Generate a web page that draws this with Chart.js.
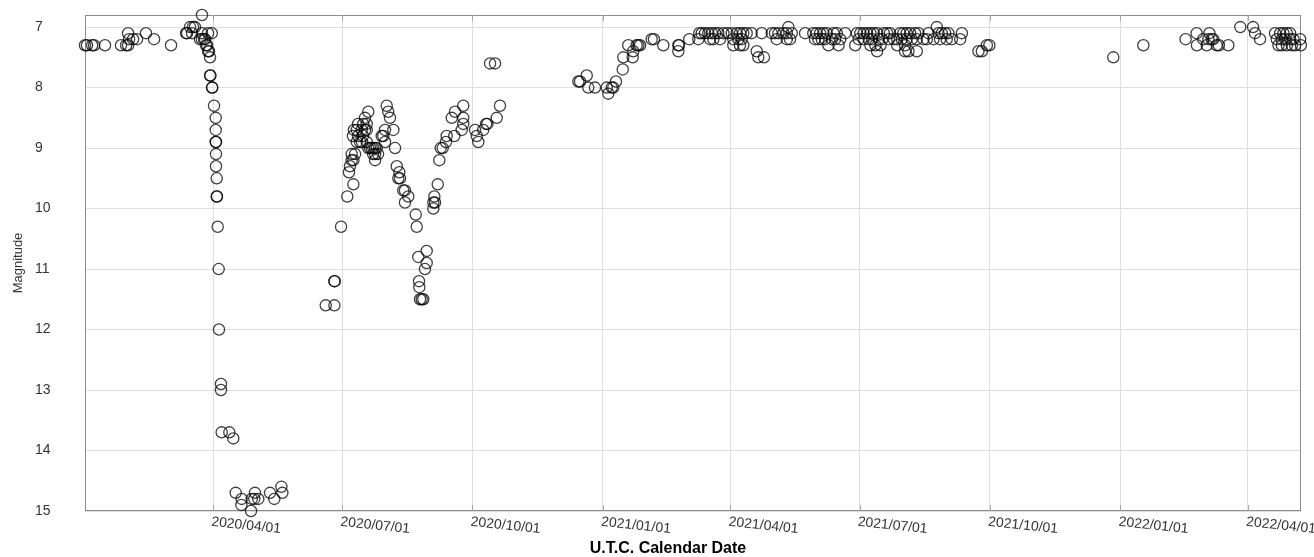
<!DOCTYPE html>
<html>
<head>
<meta charset="utf-8">
<script src="https://cdn.jsdelivr.net/npm/chart.js@4.4.1/dist/chart.umd.min.js"></script>
<style>
  html, body { margin: 0; padding: 0; background: #fff; }
  canvas { display: block; }
</style>
</head>
<body>
<canvas id="lc" width="1314" height="557"></canvas>
<script>
// Quarterly date ticks on the time axis
const tickDates = ['2020/04/01', '2020/07/01', '2020/10/01', '2021/01/01', '2021/04/01',
                   '2021/07/01', '2021/10/01', '2022/01/01', '2022/04/01'];
// Magnitude ticks (axis runs bright at the top, faint at the bottom)
const magTicks = [7, 8, 9, 10, 11, 12, 13, 14, 15];

// Visual estimates: Julian Date of each observation
const obsJD = [
  // 2020 Jan - Jun: bright plateau, then the deep fade
  2458850.2, 2458851.6, 2458855.2, 2458856.6, 2458864.3, 2458875.6, 2458879.2, 2458880.6,
  2458880.6, 2458881.3, 2458884.1, 2458886.9, 2458893.2, 2458898.9, 2458910.9, 2458921.5,
  2458922.2, 2458924.3, 2458925.7, 2458926.4, 2458927.8, 2458931.3, 2458932.7, 2458932.7,
  2458932.7, 2458934.2, 2458934.9, 2458935.6, 2458936.3, 2458937.0, 2458937.0, 2458937.7,
  2458938.4, 2458938.4, 2458938.7, 2458939.6, 2458939.8, 2458940.0, 2458941.2, 2458942.4,
  2458942.4, 2458942.4, 2458942.6, 2458942.6, 2458942.6, 2458943.1, 2458943.1, 2458943.3,
  2458943.8, 2458944.5, 2458944.7, 2458946.1, 2458946.1, 2458946.6, 2458952.0, 2458954.8,
  2458956.5, 2458960.5, 2458960.7, 2458967.3, 2458967.8, 2458969.6, 2458970.1, 2458972.4,
  2458980.7, 2458983.7, 2458988.7, 2458989.4,
  // 2020 Jun - Nov: recovery with secondary dip
  2459020.0, 2459026.1, 2459026.1, 2459026.3, 2459030.8, 2459035.2, 2459039.5, 2459036.4,
  2459037.1, 2459038.3, 2459039.5, 2459038.3, 2459040.7, 2459050.0, 2459047.7, 2459048.9,
  2459046.5, 2459039.9, 2459041.9, 2459045.4, 2459047.7, 2459048.9, 2459039.2, 2459042.8,
  2459046.3, 2459041.9, 2459044.2, 2459048.9, 2459051.2, 2459052.4, 2459053.6, 2459054.8,
  2459056.0, 2459053.4, 2459054.8, 2459054.8, 2459050.0, 2459056.9, 2459045.6, 2459042.8,
  2459063.0, 2459064.1, 2459065.3, 2459067.7, 2459061.8, 2459060.6, 2459059.5, 2459061.8,
  2459068.9, 2459070.1, 2459071.9, 2459071.2, 2459072.4, 2459074.7, 2459075.9, 2459078.2,
  2459075.9, 2459083.5, 2459084.2, 2459085.3, 2459091.2, 2459091.2, 2459090.0, 2459085.8,
  2459086.0, 2459086.5, 2459087.7, 2459088.8, 2459095.9, 2459097.1, 2459096.6, 2459095.9,
  2459099.0, 2459100.1, 2459101.1, 2459102.5, 2459104.8, 2459105.3, 2459110.7, 2459108.9,
  2459111.2, 2459117.0, 2459117.0, 2459115.9, 2459117.0, 2459125.3, 2459126.5, 2459127.6,
  2459131.1, 2459133.1, 2459134.0, 2459140.6, 2459142.9, 2459135.9, 2459139.4,
  // 2020 Dec - 2021 Sep: back at maximum
  2459198.2, 2459199.4, 2459204.1, 2459205.2, 2459209.9, 2459218.2, 2459219.3, 2459221.7,
  2459222.8, 2459224.7, 2459229.5, 2459229.9, 2459233.4, 2459236.5, 2459236.9, 2459239.3,
  2459240.5, 2459241.7, 2459249.9, 2459251.5, 2459258.1, 2459268.7, 2459268.7, 2459269.2,
  2459276.4, 2459282.8, 2459283.5, 2459285.2, 2459287.5, 2459289.9, 2459291.1, 2459292.3,
  2459293.4, 2459294.6, 2459296.9, 2459298.1, 2459300.5, 2459303.3, 2459306.4, 2459307.5,
  2459307.5, 2459309.9, 2459311.0, 2459312.2, 2459312.2, 2459313.4, 2459314.5, 2459314.5,
  2459316.9, 2459320.4, 2459324.0, 2459325.1, 2459327.5, 2459329.1, 2459334.6, 2459336.9,
  2459338.1, 2459339.3, 2459342.8, 2459345.2, 2459345.2, 2459346.3, 2459347.5, 2459348.7,
  2459358.1, 2459363.9, 2459365.1, 2459366.3, 2459367.5, 2459368.7, 2459369.9, 2459371.0,
  2459372.2, 2459373.4, 2459374.6, 2459377.0, 2459378.2, 2459379.3, 2459380.5, 2459381.7,
  2459382.9, 2459386.4, 2459393.5, 2459394.7, 2459395.9, 2459397.1, 2459399.4, 2459399.4,
  2459401.8, 2459403.0, 2459404.2, 2459404.2, 2459405.4, 2459406.5, 2459407.7, 2459408.9,
  2459408.9, 2459410.1, 2459411.3, 2459412.5, 2459413.6, 2459416.0, 2459417.2, 2459418.0,
  2459420.7, 2459423.1, 2459423.1, 2459425.1, 2459426.3, 2459427.4, 2459428.6, 2459428.6,
  2459429.8, 2459429.8, 2459431.0, 2459432.2, 2459433.3, 2459435.7, 2459436.9, 2459436.9,
  2459438.1, 2459441.6, 2459444.0, 2459445.1, 2459448.7, 2459451.0, 2459452.2, 2459453.3,
  2459454.5, 2459456.9, 2459458.0, 2459459.2, 2459461.6, 2459467.5, 2459468.7, 2459480.4,
  2459482.8, 2459486.3, 2459488.1,
  // 2021 Dec - 2022 May
  2459575.5, 2459596.7, 2459626.5, 2459634.3, 2459634.5, 2459639.0, 2459641.4, 2459642.6,
  2459643.3, 2459644.9, 2459646.0, 2459648.4, 2459650.0, 2459656.6, 2459665.1, 2459674.1,
  2459675.5, 2459679.0, 2459689.6, 2459690.8, 2459692.0, 2459693.2, 2459694.4, 2459694.4,
  2459695.5, 2459696.7, 2459697.9, 2459697.9, 2459700.2, 2459700.2, 2459701.4, 2459702.6,
  2459703.8, 2459707.3, 2459707.8
];

// Visual magnitude of each observation (same order as obsJD)
const obsMag = [
  7.3, 7.3, 7.3, 7.3, 7.3, 7.3, 7.3, 7.3,
  7.1, 7.2, 7.2, 7.2, 7.1, 7.2, 7.3, 7.1,
  7.1, 7.0, 7.1, 7.0, 7.0, 7.2, 6.8, 7.2,
  7.1, 7.2, 7.2, 7.3, 7.3, 7.1, 7.4, 7.4,
  7.5, 7.8, 7.8, 7.1, 8.0, 8.0, 8.3, 8.5,
  8.7, 8.9, 8.9, 9.1, 9.3, 9.5, 9.8, 9.8,
  10.3, 11.0, 12.0, 12.9, 13.0, 13.7, 13.7, 13.8,
  14.7, 14.9, 14.8, 15.0, 14.8, 14.8, 14.7, 14.8,
  14.7, 14.8, 14.6, 14.7,

  11.6, 11.6, 11.2, 11.2, 10.3, 9.8, 9.6, 9.4,
  9.3, 9.2, 9.2, 9.1, 9.1, 8.4, 8.5, 8.6,
  8.6, 8.7, 8.7, 8.7, 8.7, 8.7, 8.8, 8.8,
  8.8, 8.9, 8.9, 8.9, 9.0, 9.0, 9.0, 9.0,
  9.0, 9.1, 9.1, 9.2, 9.0, 9.1, 8.9, 8.6,
  8.3, 8.4, 8.5, 8.7, 8.7, 8.8, 8.8, 8.9,
  9.0, 9.3, 9.4, 9.5, 9.5, 9.7, 9.7, 9.8,
  9.9, 10.1, 10.3, 10.8, 10.7, 10.9, 11.0, 11.2,
  11.3, 11.5, 11.5, 11.5, 10.0, 9.9, 9.8, 9.9,
  9.6, 9.2, 9.0, 9.0, 8.9, 8.8, 8.8, 8.5,
  8.4, 8.3, 8.5, 8.7, 8.6, 8.7, 8.8, 8.9,
  8.7, 8.6, 8.6, 8.5, 8.3, 7.6, 7.6,

  7.9, 7.9, 7.8, 8.0, 8.0, 8.0, 8.1, 8.0,
  8.0, 7.9, 7.7, 7.5, 7.3, 7.5, 7.4, 7.3,
  7.3, 7.3, 7.2, 7.2, 7.3, 7.3, 7.4, 7.3,
  7.2, 7.2, 7.1, 7.1, 7.1, 7.1, 7.2, 7.1,
  7.2, 7.1, 7.1, 7.2, 7.1, 7.1, 7.1, 7.2,
  7.3, 7.1, 7.2, 7.3, 7.1, 7.2, 7.1, 7.3,
  7.1, 7.1, 7.4, 7.5, 7.1, 7.5, 7.1, 7.1,
  7.2, 7.1, 7.1, 7.1, 7.2, 7.0, 7.2, 7.1,
  7.1, 7.1, 7.2, 7.1, 7.2, 7.1, 7.2, 7.1,
  7.2, 7.1, 7.3, 7.2, 7.1, 7.2, 7.1, 7.3,
  7.2, 7.1, 7.3, 7.1, 7.2, 7.1, 7.1, 7.2,
  7.1, 7.2, 7.1, 7.3, 7.2, 7.1, 7.3, 7.1,
  7.4, 7.2, 7.3, 7.2, 7.1, 7.1, 7.2, 7.1,
  7.2, 7.2, 7.3, 7.1, 7.2, 7.1, 7.3, 7.4,
  7.1, 7.2, 7.4, 7.1, 7.2, 7.1, 7.2, 7.4,
  7.1, 7.2, 7.2, 7.1, 7.2, 7.0, 7.1, 7.2,
  7.1, 7.1, 7.2, 7.1, 7.2, 7.2, 7.1, 7.4,
  7.4, 7.3, 7.3,

  7.5, 7.3, 7.2, 7.1, 7.3, 7.2, 7.3, 7.2,
  7.1, 7.2, 7.2, 7.3, 7.3, 7.3, 7.0, 7.0,
  7.1, 7.2, 7.1, 7.2, 7.3, 7.1, 7.2, 7.3,
  7.1, 7.2, 7.1, 7.3, 7.1, 7.2, 7.3, 7.2,
  7.3, 7.2, 7.3
];

const FONT = 'Arial, "Liberation Sans", sans-serif';
const JD_UNIX_EPOCH = 2440587.5;

function dateToJD(s) {
  const [y, m, d] = s.split('/').map(Number);
  return Date.UTC(y, m - 1, d) / 86400000 + JD_UNIX_EPOCH;
}
const tickJD = tickDates.map(dateToJD);

// Frame, inner tick marks, slanted date labels and the vertical axis title
const frame = {
  id: 'frame',
  beforeDatasetsDraw(chart) {
    const { ctx, chartArea: a, scales: { x } } = chart;
    ctx.save();
    ctx.strokeStyle = '#8c8c8c';
    ctx.lineWidth = 1;
    ctx.strokeRect(a.left + 0.5, a.top + 0.5, a.right - a.left - 1, a.bottom - a.top - 1);
    ctx.strokeStyle = '#a6a6a6';
    ctx.beginPath();
    tickJD.forEach(v => {
      const px = Math.round(x.getPixelForValue(v)) + 0.5;
      ctx.moveTo(px, a.top); ctx.lineTo(px, a.top + 6);
      ctx.moveTo(px, a.bottom - 6); ctx.lineTo(px, a.bottom);
    });
    ctx.stroke();
    ctx.restore();
  },
  afterDraw(chart) {
    const { ctx, chartArea: a, scales: { x } } = chart;
    ctx.save();
    ctx.fillStyle = '#333';
    ctx.font = '14px ' + FONT;
    ctx.textAlign = 'left';
    ctx.textBaseline = 'top';
    tickJD.forEach((v, i) => {
      const px = x.getPixelForValue(v);
      ctx.save();
      ctx.translate(px - 1, a.bottom + 4);
      ctx.rotate(6 * Math.PI / 180);
      ctx.fillText(tickDates[i], 0, 0);
      ctx.restore();
    });
    ctx.translate(18, (a.top + a.bottom) / 2);
    ctx.rotate(-Math.PI / 2);
    ctx.textAlign = 'center';
    ctx.textBaseline = 'middle';
    ctx.font = '13px ' + FONT;
    ctx.fillText('Magnitude', 0, 0);
    ctx.restore();
  }
};

new Chart(document.getElementById('lc'), {
  type: 'scatter',
  data: {
    datasets: [{
      data: obsJD.map((jd, i) => ({ x: jd, y: obsMag[i] })),
      pointStyle: 'circle',
      pointRadius: 5.6,
      pointBorderWidth: 1.3,
      pointBorderColor: 'rgba(0,0,0,0.75)',
      pointBackgroundColor: 'rgba(0,0,0,0)',
      clip: false
    }]
  },
  options: {
    responsive: false,
    animation: false,
    devicePixelRatio: 1,
    events: [],
    layout: { padding: { left: 35, right: 13, top: 15, bottom: 0 } },
    plugins: {
      legend: { display: false },
      tooltip: { enabled: false },
      title: {
        display: true,
        text: 'U.T.C. Calendar Date',
        position: 'bottom',
        color: '#000',
        padding: 0,
        font: { family: FONT, size: 16, weight: 'bold', lineHeight: 1 }
      }
    },
    scales: {
      x: {
        type: 'linear',
        min: 2458850.2,
        max: 2459707.9,
        afterBuildTicks: s => { s.ticks = tickJD.map(v => ({ value: v })); },
        afterFit: s => { s.height = 30; },
        ticks: { display: false },
        grid: { color: '#dedede', lineWidth: 1, drawTicks: false },
        border: { display: false }
      },
      y: {
        type: 'linear',
        reverse: true,
        min: 6.8,
        max: 15,
        afterBuildTicks: s => { s.ticks = magTicks.map(v => ({ value: v })); },
        afterFit: s => { s.width = 50; },
        ticks: { crossAlign: 'far', color: '#333', padding: 0, font: { family: FONT, size: 14 } },
        grid: { color: '#dedede', lineWidth: 1, drawTicks: false },
        border: { display: false }
      }
    }
  },
  plugins: [frame]
});
</script>
</body>
</html>
